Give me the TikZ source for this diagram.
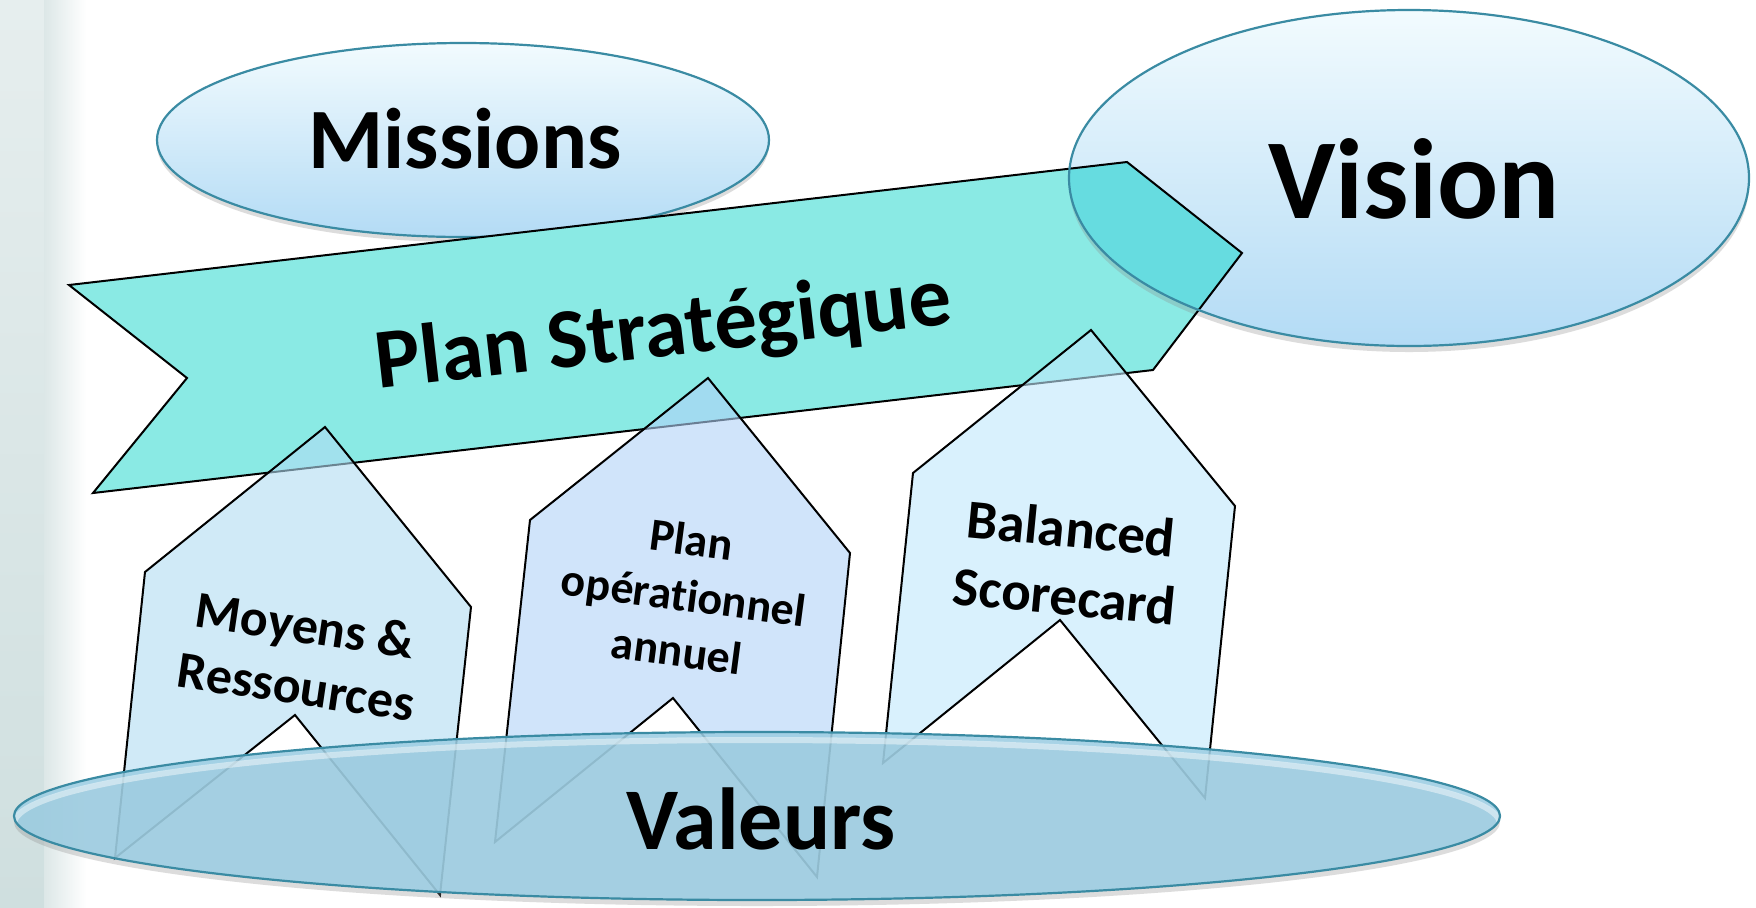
\documentclass[tikz,border=0pt]{standalone}
\usepackage{fontspec}
\setmainfont{Carlito}[Ligatures=NoCommon]
\definecolor{bannerC}{HTML}{8AEAE4}
\definecolor{overlapC}{HTML}{66DCE0}
\definecolor{ellTop}{HTML}{F2FBFE}
\definecolor{ellBot}{HTML}{B3DBF5}
\definecolor{ellLine}{HTML}{3A8BA3}
\definecolor{valC}{RGB}{157,206,227}
\definecolor{hA}{RGB}{177,220,243}
\definecolor{hB}{RGB}{177,210,248}
\definecolor{hC}{RGB}{193,233,252}
\definecolor{stripT}{HTML}{E6EEEE}
\definecolor{stripB}{HTML}{CFDFDF}
\definecolor{stripM}{HTML}{DCE7E7}
\begin{document}
\begin{tikzpicture}[x=0.5pt,y=-0.5pt,
  ellline/.style={draw=ellLine, line width=1.1pt},
  ellshadow/.style={fill=black!45, opacity=0.30},
  housebox/.style={draw=black, line width=1pt, line join=miter, fill opacity=0.6},
  lbl/.style={font=\bfseries, inner sep=0pt, align=center, text=black}]
\useasboundingbox (0,0) rectangle (1756,907);
\fill[white] (0,0) rectangle (1756,907);
% left strip
\shade[top color=stripT, bottom color=stripB] (0,0) rectangle (44,907);
\shade[left color=stripM, right color=white] (44,0) rectangle (86,907);

% Missions ellipse
\fill[ellshadow] (463,145) ellipse [x radius=306, y radius=97];
\shadedraw[top color=ellTop, bottom color=ellBot, ellline] (463,140) ellipse [x radius=306, y radius=97];

% Banner
\path[fill=bannerC] (69,285) -- (1127,162) -- (1242,253) -- (1153,370) -- (93,493) -- (187,378) -- cycle;

% Vision ellipse
\fill[ellshadow] (1409,184) ellipse [x radius=340, y radius=168];
\shade[top color=ellTop, bottom color=ellBot] (1409,178) ellipse [x radius=340, y radius=168];
\begin{scope}
  \clip (69,285) -- (1127,162) -- (1242,253) -- (1153,370) -- (93,493) -- (187,378) -- cycle;
  \fill[overlapC] (1409,178) ellipse [x radius=340, y radius=168];
\end{scope}
\draw[black, line width=1pt, line join=miter] (69,285) -- (1127,162) -- (1242,253) -- (1153,370) -- (93,493) -- (187,378) -- cycle;
\draw[ellline] (1409,178) ellipse [x radius=340, y radius=168];

% Houses
\path[housebox, fill=hA] (325,427) -- (471,607) -- (440,895) -- (295,715) -- (115,858) -- (145,572) -- cycle;
\path[housebox, fill=hB] (708,378) -- (850,553) -- (817,877) -- (673,698) -- (495,842) -- (530,520) -- cycle;
\path[housebox, fill=hC] (1091,330) -- (1235,506) -- (1205,798) -- (1060,620) -- (883,763) -- (913,473) -- cycle;

% Valeurs ellipse
\fill[ellshadow] (757,822) ellipse [x radius=743, y radius=84];
\fill[valC, fill opacity=0.88] (757,816) ellipse [x radius=743, y radius=84];
\begin{scope}
  \clip (757,816) ellipse [x radius=743, y radius=84];
  \draw[white, line width=3pt, opacity=0.45] (757,824) ellipse [x radius=743, y radius=84];
\end{scope}
\draw[ellline] (757,816) ellipse [x radius=743, y radius=84];

% Texts
\node[lbl, font=\bfseries\fontsize{43}{50}\selectfont, anchor=base] (missions) at (465,168) {Missions};
\node[lbl, font=\bfseries\fontsize{57}{64}\selectfont, anchor=base] (vision) at (1414,218) {Vision};
\node[lbl, font=\bfseries\fontsize{44}{50}\selectfont, anchor=base] (valeurs) at (761,849) {Valeurs};
\node[lbl, font=\bfseries\fontsize{42.5}{48}\selectfont, anchor=base, rotate=6.5] (plan) at (666,356) {Plan Stratégique};
\node[lbl, font=\bfseries\fontsize{26}{31}\selectfont, rotate=-8.4] (moyens) at (301,656) {Moyens \&\\Ressources};
\node[lbl, font=\bfseries\fontsize{23}{28}\selectfont, rotate=-7.5] (planop) at (684,595) {Plan\\opérationnel\\annuel};
\node[lbl, font=\bfseries\fontsize{27.5}{34}\selectfont, rotate=-5.5] (bsc) at (1068,562) {Balanced\\Scorecard};
\end{tikzpicture}
\end{document}
